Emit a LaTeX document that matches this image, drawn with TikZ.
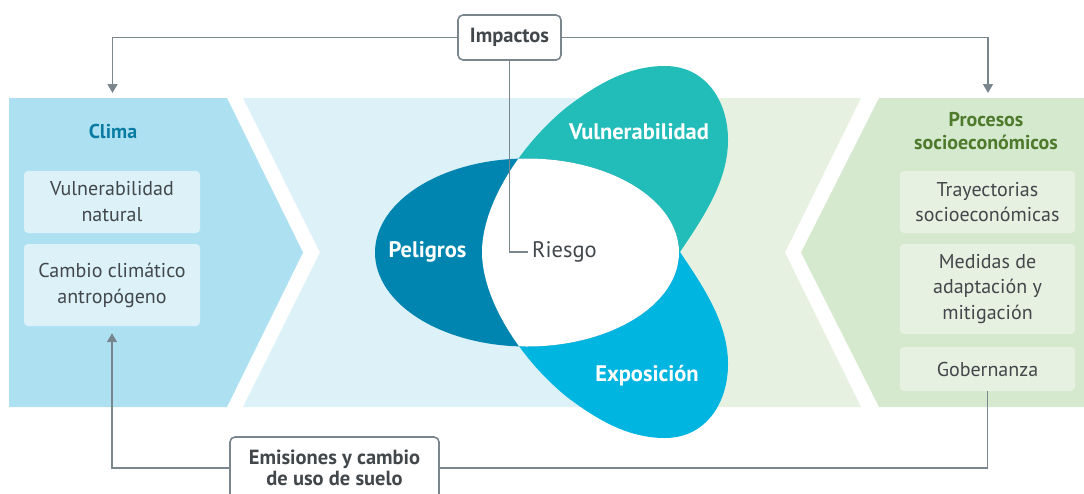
\documentclass[tikz,border=0pt]{standalone}
\usepackage{fontspec}
\setmainfont{PT Sans}
\usetikzlibrary{arrows.meta}
\definecolor{panelL}{HTML}{ADE1F2}
\definecolor{panelM}{HTML}{DDF1F9}
\definecolor{panelG}{HTML}{E6F1E2}
\definecolor{panelR}{HTML}{D5E9CF}
\definecolor{pelC}{HTML}{0085B0}
\definecolor{vulC}{HTML}{22BDB8}
\definecolor{expC}{HTML}{00B5E0}
\definecolor{txt}{HTML}{42474B}
\definecolor{lineC}{HTML}{7A868D}
\definecolor{climaC}{HTML}{0A7CA3}
\definecolor{procC}{HTML}{4E7A2C}
\begin{document}
\begin{tikzpicture}[x=1pt,y=-1pt,
  conn/.style={draw=lineC, line width=1.6pt},
  arr/.style={conn, -{Triangle[width=10pt,length=9pt]}},
  lbox/.style={fill=panelM, rounded corners=4pt, inner sep=0pt, align=center, text=txt, font=\fontsize{20}{26}\selectfont},
  rbox/.style={fill=panelG, rounded corners=4pt, inner sep=0pt, align=center, text=txt, font=\fontsize{20}{25.5}\selectfont},
  wbox/.style={draw=lineC, line width=1.6pt, fill=white, rounded corners=5pt, inner sep=0pt, align=center, text=txt, font=\bfseries\fontsize{20.5}{21.5}\selectfont},
  petal/.style={text=white, font=\bfseries\fontsize{22.5}{24}\selectfont},
  head/.style={align=center, font=\bfseries\fontsize{20}{23}\selectfont}
]
\useasboundingbox (0,0) rectangle (1084,493);
\clip (0,0) rectangle (1084,493);
% panels
\fill[panelL] (9,98) -- (227,98) -- (303,252.5) -- (227,407) -- (9,407) -- cycle;
\fill[panelM] (243,98) -- (681,98) -- (681,407) -- (243,407) -- (320,252.5) -- cycle;
\fill[panelG] (681,98) -- (861,98) -- (785,252.5) -- (861,407) -- (681,407) -- cycle;
\fill[panelR] (879,98) -- (1084,98) -- (1084,407) -- (879,407) -- (801,252.5) -- cycle;
% petals
\fill[vulC] (482,252) .. controls (482,205) and (520,145) .. (567,107)
  .. controls (600,82) and (630,66) .. (665,66)
  .. controls (705,66) and (728,100) .. (728,140)
  .. controls (728,180) and (705,215) .. (680,252) -- cycle;
\fill[expC] (482,252) .. controls (482,299) and (520,359) .. (567,397)
  .. controls (600,422) and (630,438) .. (665,438)
  .. controls (705,438) and (728,404) .. (728,364)
  .. controls (728,324) and (705,289) .. (680,252) -- cycle;
\fill[pelC] (527,252.5) ellipse [x radius=152, y radius=94];
\begin{scope}
  \clip (527,252.5) ellipse [x radius=152, y radius=94];
  \fill[white] (482,252) .. controls (482,205) and (520,145) .. (567,107)
    -- (800,107) -- (800,397) -- (567,397)
    .. controls (520,359) and (482,299) .. (482,252) -- cycle;
\end{scope}
% petal labels
\node[petal] (pel) at (427.5,252) {Peligros};
\node[petal] (vul) at (639,132) {Vulnerabilidad};
\node[petal] (exp) at (647,376) {Exposición};
\node[anchor=west, inner sep=4pt, text=txt, font=\fontsize{22.5}{24}\selectfont] (risk) at (528,252) {Riesgo};
% headers
\node[head, text=climaC] (clima) at (113,131) {Clima};
\node[head, text=procC] (proc) at (986,131) {Procesos\\socioeconómicos};
% left boxes
\node[lbox, minimum width=176pt, minimum height=62pt] (vn) at (112,202) {Vulnerabilidad\\natural};
\node[lbox, minimum width=176pt, minimum height=82pt] (cc) at (112,285) {Cambio climático\\antropógeno};
% right boxes
\node[rbox, minimum width=175pt, minimum height=62pt] (tr) at (987.5,202) {Trayectorias\\socioeconómicas};
\node[rbox, minimum width=175pt, minimum height=90pt] (med) at (987.5,289) {Medidas de\\adaptación y\\mitigación};
\node[rbox, minimum width=175pt, minimum height=44pt] (gob) at (987.5,369) {Gobernanza};
% top/bottom boxes
\node[wbox, minimum width=103pt, minimum height=45pt] (imp) at (509.5,37.5) {Impactos};
\node[wbox, minimum width=209pt, minimum height=62pt] (emi) at (334.5,468) {Emisiones y cambio\\de uso de suelo};
% connector ends
\coordinate (clarr) at (112.5,93);
\coordinate (prarr) at (988,93);
% connectors
\draw[arr] (imp.west) -| (clarr);
\draw[arr] (imp.east) -| (prarr);
\draw[conn] (imp.south) |- (risk.west);
\draw[arr, shorten >=7pt] (emi.west) -| (cc.south);
\draw[conn] (emi.east) -| (gob.south);
\end{tikzpicture}
\end{document}
